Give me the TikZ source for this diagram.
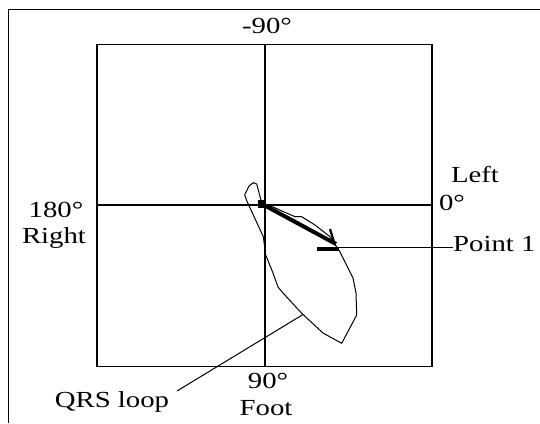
\documentclass[tikz,border=0pt]{standalone}
\usepackage{fontspec}
\setmainfont{Liberation Serif}[FakeStretch=1.25]
\begin{document}
\begin{tikzpicture}[x=1pt,y=-1pt,
  frame/.style={line width=1.6pt},
  axis/.style={line width=1.3pt},
  loopline/.style={line width=1pt, line join=round},
  lbl/.style={font=\fontsize{23}{26}\selectfont, inner sep=0pt},
  lead/.style={line width=1pt}]
\useasboundingbox (0,0) rectangle (540,423);
% outer frame (top and left only)
\coordinate (ftr) at (540,9.5);
\coordinate (ftl) at (8.5,9.5);
\coordinate (fbl) at (8.5,423);
\draw[line width=1.2pt] (ftr) -- (ftl) -- (fbl);
% square
\node[draw, frame, minimum width=335pt, minimum height=322pt, inner sep=0pt] (sq) at (264.5,205.5) {};
\coordinate (c) at (265,205);
\draw[axis] (sq.north -| c) -- (sq.south -| c);
\draw[axis] (sq.west |- c) -- (sq.east |- c);
% labels
\node[lbl] (n90) at (267,26) {-90°};
\node[lbl] (n180) at (56,210) {180°};
\node[lbl] (nright) at (54,238) {Right};
\node[lbl] (nleft) at (475,175) {Left};
\node[lbl] (n0) at (452,203) {0°};
\node[lbl, anchor=west] (np1) at (453,244) {Point 1};
\node[lbl] (n90b) at (268,381) {90°};
\node[lbl] (nfoot) at (266,408) {Foot};
\node[lbl] (nqrs) at (112,402) {QRS loop};
% QRS loop
\coordinate (o) at (262,204);
\draw[loopline] (o) -- (256.7,184) -- (253.3,182.7) -- (249,186) -- (244.7,195) -- (246.7,200.7)
  -- (263.3,236.7) -- (265.7,255) -- (273,273) -- (278,287) -- (283,293) -- (301.7,313.3)
  -- (323,333) -- (341.7,343.3) -- (356.7,315) -- (356,293) -- (353,278) -- (340,252)
  -- (330,236.7) -- (315,225) -- (301.7,216.7) -- (295,216.7) -- (273,207) -- cycle;
% arrow
\coordinate (tip) at (336,244);
\fill (o) ++(-4,-4) rectangle ++(8,8);
\draw[line width=4pt] (o) -- (tip);
\coordinate (hA) at (330,229);
\coordinate (hB) at (334,242);
\draw[line width=2.2pt] (hA) -- (hB);
\coordinate (bA) at (317,248.5);
\coordinate (bB) at (339,248.5);
\draw[line width=4pt] (bA) -- (bB);
% point 1 leader
\coordinate (p1) at (338,247);
\draw[lead] (p1) -- (np1.west |- p1);
% QRS loop leader
\coordinate (q1) at (303,314.5);
\coordinate (q2) at (177,391);
\draw[lead] (q1) -- (q2);
\end{tikzpicture}
\end{document}
